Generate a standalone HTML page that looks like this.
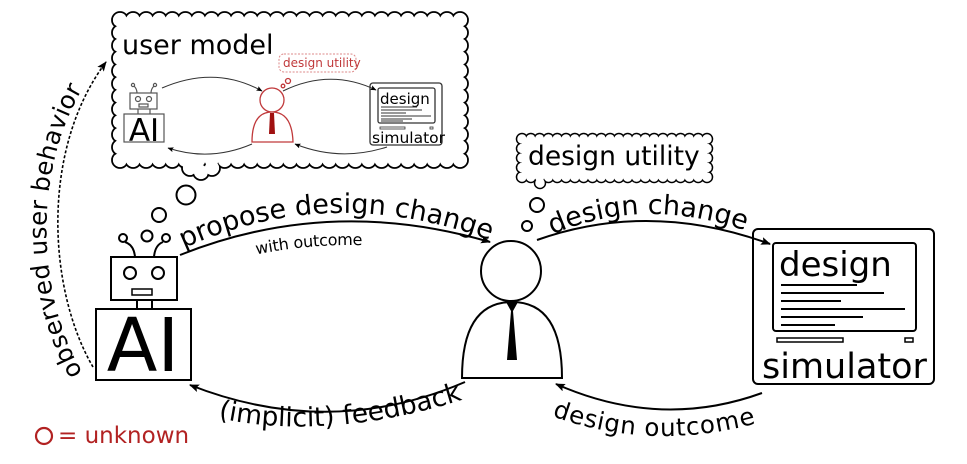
<!DOCTYPE html>
<html><head><meta charset="utf-8"><style>
html,body{margin:0;padding:0;background:#fff;width:967px;height:464px;overflow:hidden}
svg{display:block;font-family:"DejaVu Sans","Liberation Sans",sans-serif}
</style></head><body>
<svg id="s" width="967" height="464" viewBox="0 0 967 464" xmlns="http://www.w3.org/2000/svg">
<defs>
<marker id="ah" markerWidth="10" markerHeight="8" refX="9" refY="4" orient="auto" markerUnits="userSpaceOnUse"><path d="M0,0 L10,4 L0,8 L2,4 Z" fill="#000"/></marker>
<marker id="ahs" markerWidth="6" markerHeight="5" refX="5.5" refY="2.5" orient="auto" markerUnits="userSpaceOnUse"><path d="M0,0 L6,2.5 L0,5 L1.2,2.5 Z" fill="#000"/></marker>
<path id="p1" d="M180,250 Q330,180 495,242"/>
<path id="p1b" d="M215,250 Q330,218 440,240"/>
<path id="p2" d="M545,238 Q650,188 775,242"/>
<path id="p3" d="M558,398 Q660,435 768,400"/>
<path id="p4" d="M218,418 Q330,442 468,398"/>
<path id="p5" d="M88,370 C40,290 35,150 108,63"/>
</defs>
<g id="clouds"></g>
<text x="122" y="54" font-size="27">user model</text>

<!-- mini diagram -->
<g stroke="#555" fill="none" stroke-width="1.2">
<rect x="124" y="114" width="40" height="28" fill="#fff"/>
<rect x="130" y="93" width="27" height="16" fill="#fff"/>
<line x1="138" y1="109" x2="138" y2="114"/><line x1="150" y1="109" x2="150" y2="114"/>
<circle cx="138" cy="99" r="2.5"/><circle cx="149" cy="99" r="2.5"/>
<rect x="139" y="104" width="9" height="3"/>
<path d="M137,93 Q137,89 134,86"/><path d="M151,93 Q151,89 154,86"/>
<circle cx="133" cy="85" r="1.6"/><circle cx="155" cy="85" r="1.6"/>
</g>
<text x="144" y="141" font-size="31" text-anchor="middle" fill="#000">AI</text>
<g stroke="#c0393b" fill="none" stroke-width="1.3">
<circle cx="272" cy="100" r="12"/>
<path d="M252,142 Q252,112 272,112 Q292,112 293,142 Z" fill="#fff"/>
<circle cx="283" cy="86" r="1.8"/><circle cx="288" cy="81" r="2.5"/>
</g>
<path d="M270,113 L274,113 L275,134 L269,134 Z" fill="#a01010"/>
<rect x="279" y="54" width="77" height="18" rx="5" fill="#fff" stroke="#d88" stroke-width="1" stroke-dasharray="2,1.5"/>
<text x="283" y="67" font-size="12" fill="#c0393b">design utility</text>
<g stroke="#333" fill="#fff" stroke-width="1.3">
<rect x="370" y="83" width="72" height="62" rx="3"/>
<rect x="378" y="88" width="57" height="35" rx="2"/>
</g>
<text x="380" y="104" font-size="15">design</text>
<g stroke="#333" stroke-width="1">
<line x1="381" y1="107" x2="417" y2="107"/><line x1="381" y1="110" x2="422" y2="110"/><line x1="381" y1="113" x2="406" y2="113"/><line x1="381" y1="116" x2="431" y2="116"/><line x1="381" y1="119" x2="412" y2="119"/><line x1="381" y1="121" x2="403" y2="121"/>
</g>
<rect x="380" y="127" width="25" height="2" fill="none" stroke="#333" stroke-width="0.8"/>
<rect x="430" y="127" width="3" height="2" fill="none" stroke="#333" stroke-width="0.8"/>
<text x="372" y="143" font-size="15.5">simulator</text>
<g stroke="#333" fill="none" stroke-width="1" marker-end="url(#ahs)">
<path d="M162,88 Q215,65 262,91"/>
<path d="M283,91 Q330,68 376,90"/>
<path d="M387,147 Q340,162 295,144"/>
<path d="M252,144 Q210,162 168,148"/>
</g>

<!-- main AI robot -->
<g stroke="#000" fill="#fff" stroke-width="2">
<rect x="96" y="309" width="95" height="71"/>
<rect x="111" y="257" width="66" height="43"/>
<line x1="137" y1="300" x2="137" y2="309"/><line x1="152" y1="300" x2="152" y2="309"/>
<circle cx="130" cy="273" r="6"/><circle cx="158" cy="273" r="6"/>
<rect x="132" y="289" width="20" height="6" stroke-width="1.5"/>
<path d="M135,257 Q134,245 125,242" fill="none"/><path d="M154,257 Q155,245 163,242" fill="none"/>
<circle cx="123" cy="238" r="4"/><circle cx="166" cy="238" r="4"/>
<circle cx="147" cy="236" r="5.5"/><circle cx="159" cy="215" r="7"/><circle cx="186" cy="195" r="9.5"/>
</g>
<text x="143" y="371" font-size="74" text-anchor="middle">AI</text>

<!-- person -->
<g stroke="#000" fill="#fff" stroke-width="2">
<circle cx="511" cy="271" r="30"/>
<path d="M462,378 Q462,302 512,302 Q562,302 562,378 Z"/>
<circle cx="527" cy="226" r="5"/><circle cx="537" cy="205" r="7"/>
</g>
<path d="M506,302 L518,302 L513,311 L517,360 L507,360 L511,311 Z" fill="#000"/>
<text x="528" y="165" font-size="26.5">design utility</text>

<!-- simulator -->
<g stroke="#000" fill="#fff" stroke-width="2">
<rect x="753" y="229" width="181" height="155" rx="5"/>
<rect x="773" y="243" width="143" height="88" rx="3"/>
<rect x="777" y="338" width="66" height="4" stroke-width="1.5"/>
<rect x="905" y="338" width="8" height="4" stroke-width="1.5"/>
</g>
<text x="779" y="276" font-size="34">design</text>
<g stroke="#000" stroke-width="2">
<line x1="781" y1="285" x2="857" y2="285"/><line x1="781" y1="293" x2="884" y2="293"/><line x1="781" y1="301" x2="841" y2="301"/><line x1="781" y1="309" x2="905" y2="309"/><line x1="781" y1="317" x2="863" y2="317"/><line x1="781" y1="325" x2="835" y2="325"/>
</g>
<text x="762" y="378" font-size="35">simulator</text>

<!-- arrows -->
<g stroke="#000" fill="none" stroke-width="2" marker-end="url(#ah)">
<path d="M180,255 Q330,195 490,242"/>
<path d="M537,240 Q650,200 770,244"/>
<path d="M762,393 Q660,430 556,384"/>
<path d="M465,382 Q330,440 190,385"/>
<path d="M93,367 C48,290 40,150 106,62" stroke-dasharray="3,2" stroke-width="1.6"/>
</g>
<text font-size="27"><textPath href="#p1" startOffset="4">propose design change</textPath></text>
<text font-size="16" dy="14"><textPath href="#p1b" startOffset="40">with outcome</textPath></text>
<text font-size="27"><textPath href="#p2" startOffset="8">design change</textPath></text>
<text font-size="24.5" dy="19"><textPath href="#p3" startOffset="0">design outcome</textPath></text>
<text font-size="26.5"><textPath href="#p4" startOffset="0">(implicit) feedback</textPath></text>
<text font-size="24.5" dy="-6"><textPath href="#p5" startOffset="0">observed user behavior</textPath></text>

<circle cx="44" cy="436" r="8" fill="none" stroke="#b22222" stroke-width="2.2"/>
<text x="58" y="443" font-size="23" fill="#b22222">= unknown</text>
</svg>
<script>
(function(){
var g=document.getElementById('clouds'),ns='http://www.w3.org/2000/svg';
function el(n,a){var e=document.createElementNS(ns,n);for(var k in a)e.setAttribute(k,a[k]);g.appendChild(e);return e;}
function cloud(x0,y0,x1,y1,r,st,extra,sw){
var pts=[],nx=Math.round((x1-x0)/st),ny=Math.round((y1-y0)/st);
for(var i=0;i<=nx;i++){var x=x0+(x1-x0)*i/nx;pts.push([x,y0]);pts.push([x,y1]);}
for(var j=1;j<ny;j++){var y=y0+(y1-y0)*j/ny;pts.push([x0,y]);pts.push([x1,y]);}
pts=pts.concat(extra);
pts.forEach(function(p){el('circle',{cx:p[0],cy:p[1],r:r,fill:'#fff',stroke:'#000','stroke-width':sw});});
pts.forEach(function(p){el('circle',{cx:p[0],cy:p[1],r:r-sw*0.6,fill:'#fff'});});
el('rect',{x:x0,y:y0,width:x1-x0,height:y1-y0,fill:'#fff'});
}
cloud(120,20,460,160,8,13,[[190,168],[201,172],[212,168]],1.8);
cloud(522,139,707,177,5.5,9,[[540,183]],1.5);
})();
</script>
</body></html>
